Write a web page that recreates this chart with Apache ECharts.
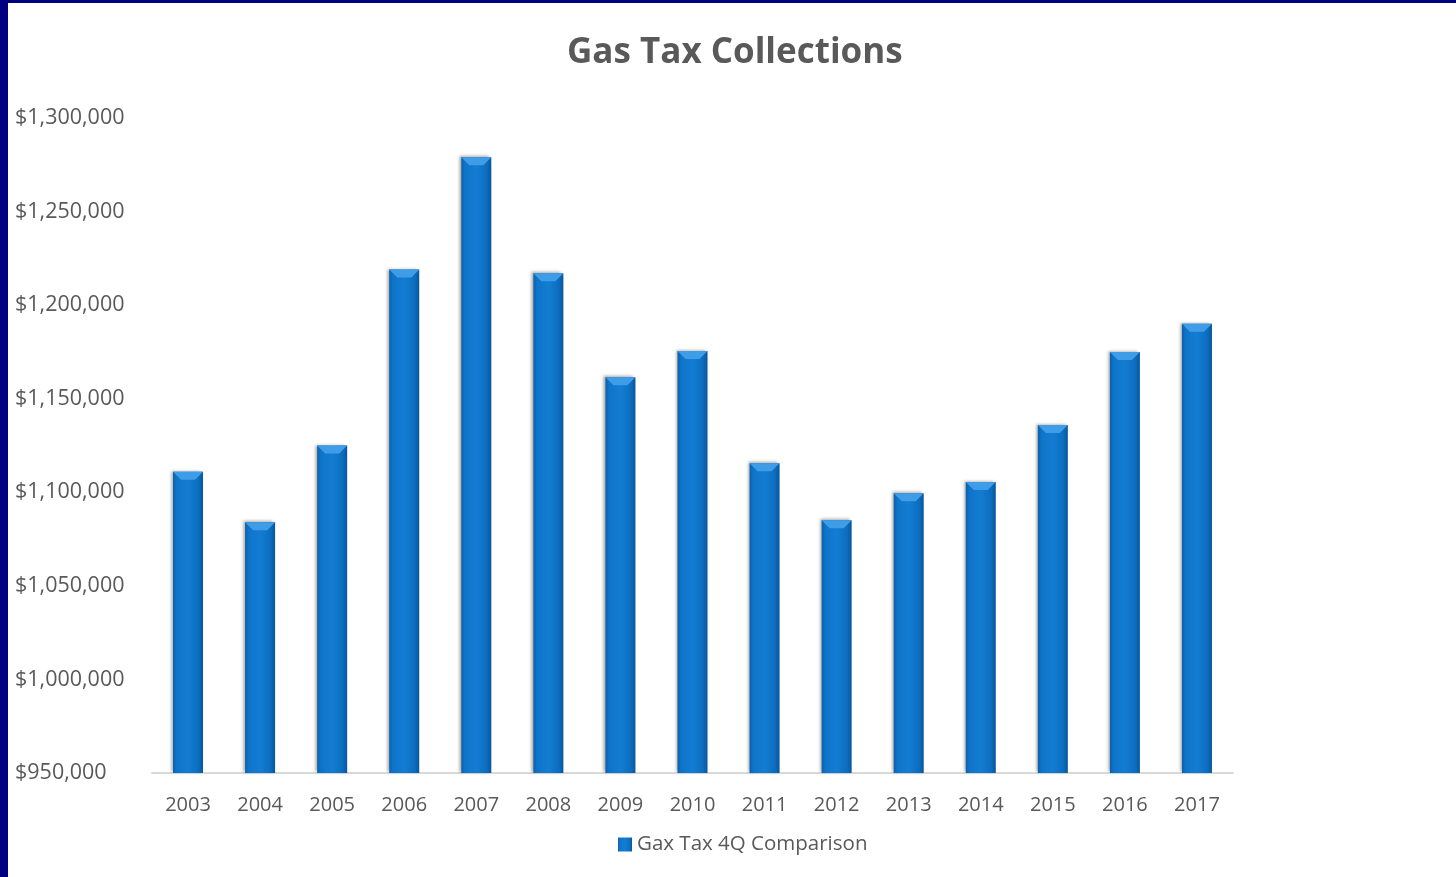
<!DOCTYPE html>
<html>
<head>
<meta charset="utf-8">
<script src="https://cdn.jsdelivr.net/npm/echarts@6/dist/echarts.min.js"></script>
<style>
  html, body { margin: 0; padding: 0; background: #fff; }
  #frame {
    position: absolute; left: 0; top: 0; width: 1456px; height: 877px;
    box-sizing: border-box; border-top: 3px solid #000080; border-left: 8px solid #000080;
  }
  #main { width: 1448px; height: 874px; }
</style>
</head>
<body>
<div id="frame"><div id="main"></div></div>
<script>
// categories and values
const years = ['2003', '2004', '2005', '2006', '2007', '2008', '2009', '2010',
  '2011', '2012', '2013', '2014', '2015', '2016', '2017'];
const collections = [1111000, 1084000, 1125000, 1219000, 1279000, 1217000, 1161500, 1175500,
  1115500, 1085000, 1099500, 1105500, 1136000, 1175000, 1190000];
const seriesName = 'Gax Tax 4Q Comparison';
const yMin = 950000, yMax = 1300000, yStep = 50000;

const font = '"Open Sans", sans-serif';
const textColor = '#595959';

const barFill = new echarts.graphic.LinearGradient(0, 0, 1, 0, [
  { offset: 0, color: '#0b5fa9' },
  { offset: 0.12, color: '#0e74c9' },
  { offset: 0.5, color: '#137dd3' },
  { offset: 0.85, color: '#0c6dbf' },
  { offset: 1, color: '#08569a' }
]);

var myChart = echarts.init(document.getElementById('main'));
var option = {
  backgroundColor: '#fff',
  animation: false,
  title: {
    text: 'Gas Tax Collections',
    left: 554,
    top: 28,
    textStyle: { fontFamily: font, fontSize: 35, fontWeight: 'bold', color: textColor }
  },
  legend: {
    data: [{ name: seriesName, icon: 'rect' }],
    bottom: 17,
    left: 605,
    itemWidth: 14,
    itemHeight: 14,
    itemGap: 4,
    textStyle: { fontFamily: font, fontSize: 20.5, color: textColor }
  },
  grid: { left: 144, right: 223, top: 115, bottom: 104, containLabel: false },
  xAxis: {
    type: 'category',
    data: years,
    axisLine: { lineStyle: { color: '#d9d9d9', width: 2 } },
    axisTick: { show: false },
    axisLabel: { margin: 22, fontFamily: font, fontSize: 20, color: textColor }
  },
  yAxis: {
    type: 'value',
    min: yMin,
    max: yMax,
    interval: yStep,
    axisLine: { show: false },
    axisTick: { show: false },
    splitLine: { show: false },
    axisLabel: {
      align: 'left',
      margin: 137,
      fontFamily: font,
      fontSize: 21.5,
      color: textColor,
      formatter: function (v) { return '$' + v.toLocaleString('en-US'); }
    }
  },
  series: [{
    name: seriesName,
    type: 'bar',
    data: collections,
    barWidth: 30,
    itemStyle: {
      color: barFill,
      shadowColor: 'rgba(0,0,0,0.35)',
      shadowBlur: 3,
      shadowOffsetX: -2,
      shadowOffsetY: -1
    }
  }, {
    // light bevel at the top of each bar
    name: 'cap',
    type: 'pictorialBar',
    data: collections,
    symbol: 'path://M0,0 L30,0 L22,8 L8,8 Z',
    symbolSize: [30, 8],
    symbolPosition: 'end',
    symbolOffset: [0, 0],
    z: 5,
    silent: true,
    itemStyle: { color: '#3f9de8' },
    legendHoverLink: false
  }]
};
myChart.setOption(option);
</script>
</body>
</html>
